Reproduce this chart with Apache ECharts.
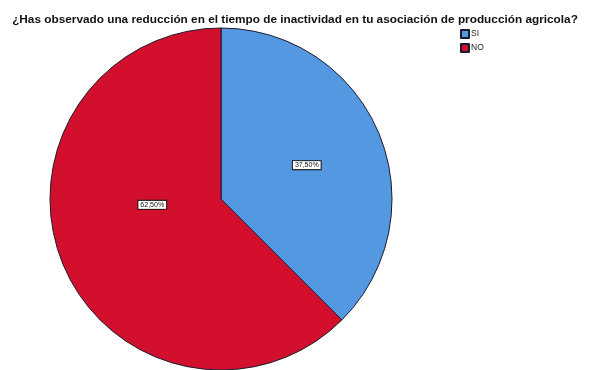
<!DOCTYPE html>
<html>
<head>
<meta charset="utf-8">
<script src="https://cdn.jsdelivr.net/npm/echarts@6/dist/echarts.min.js"></script>
<style>
  html, body { margin: 0; padding: 0; background: #fff; }
  #chart { width: 590px; height: 370px; }
</style>
</head>
<body>
<div id="chart"></div>
<script>
// Survey answers and their shares (percent)
const titleText = '¿Has observado una reducción en el tiempo de inactividad en tu asociación de producción agricola?';
const categories = ['SI', 'NO'];
const shares = [37.5, 62.5];
const sliceColors = ['#5598e2', '#d2102e'];

// Per-slice nudge of the inside labels
const labelShift = [[4, 0], [13, -28]];

const chart = echarts.init(document.getElementById('chart'), null, { renderer: 'canvas' });

const fmt = v => v.toFixed(2).replace('.', ',') + '%';

chart.setOption({
  animation: false,
  backgroundColor: '#ffffff',
  title: {
    text: titleText,
    left: 290,
    textAlign: 'center',
    top: 9,
    textStyle: { fontFamily: 'Liberation Sans, Arial, sans-serif', fontWeight: 'bold', fontSize: 11.8, color: '#111' }
  },
  legend: {
    orient: 'vertical',
    left: 455,
    top: 24,
    itemWidth: 8,
    itemHeight: 8,
    itemGap: 4,
    icon: 'rect',
    data: categories,
    textStyle: { fontFamily: 'Liberation Sans, Arial, sans-serif', fontSize: 8.5, color: '#222', padding: [0, 0, 0, -3] }
  },
  series: [{
    type: 'pie',
    center: [221, 199],
    radius: 171,
    startAngle: 90,
    clockwise: true,
    silent: true,
    data: categories.map((c, i) => ({
      name: c,
      value: shares[i],
      itemStyle: { color: sliceColors[i], borderColor: '#1a1a2a', borderWidth: 1 }
    })),
    label: {
      position: 'inside',
      formatter: p => fmt(p.value),
      fontFamily: 'Liberation Sans, Arial, sans-serif',
      fontSize: 7,
      color: '#111',
      backgroundColor: '#ffffff',
      borderColor: '#111',
      borderWidth: 1,
      padding: [1, 2, 0, 2]
    },
    labelLayout: p => ({ dx: labelShift[p.dataIndex][0], dy: labelShift[p.dataIndex][1] }),
    labelLine: { show: false }
  }]
});
</script>
</body>
</html>
